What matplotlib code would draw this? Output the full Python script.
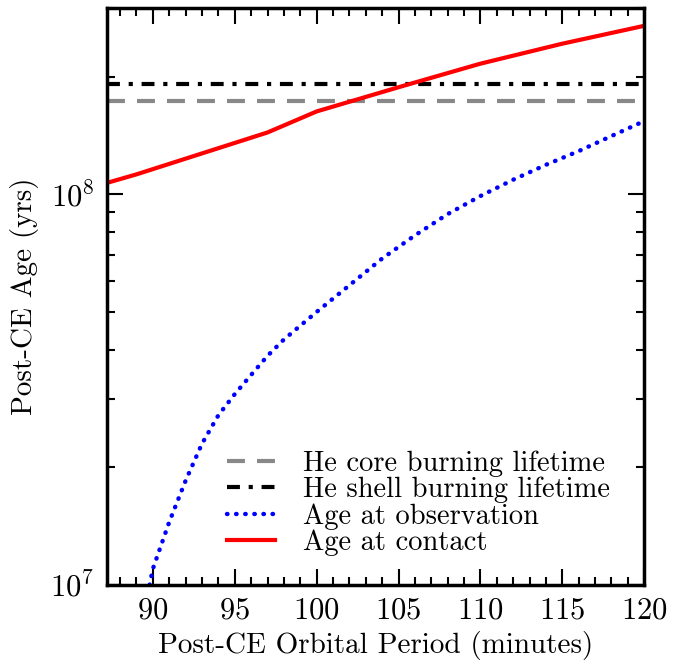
import matplotlib
matplotlib.use('Agg')
import matplotlib.pyplot as plt
from matplotlib.ticker import MultipleLocator, LogLocator, NullFormatter

plt.rcParams['font.family'] = 'serif'
plt.rcParams['font.serif'] = ['cmr10']
plt.rcParams['mathtext.fontset'] = 'cm'
plt.rcParams['axes.formatter.use_mathtext'] = True

# lifetimes (yrs)
he_core_life = 1.73e8
he_shell_life = 1.92e8

# age at observation
obs_period = [89.8, 90, 91, 92, 93, 94, 95, 96, 97, 98, 100, 102, 104, 106,
              108, 110, 112, 114, 116, 118, 120]
obs_age = [1.0e7, 1.1e7, 1.45e7, 1.85e7, 2.3e7, 2.72e7, 3.08e7, 3.45e7, 3.86e7,
           4.25e7, 5.0e7, 5.85e7, 6.85e7, 7.85e7, 8.9e7, 9.9e7, 1.09e8, 1.19e8,
           1.29e8, 1.41e8, 1.54e8]

# age at contact
contact_period = [87.2, 89, 97, 100, 105, 110, 115, 120]
contact_age = [1.07e8, 1.125e8, 1.44e8, 1.63e8, 1.88e8, 2.16e8, 2.43e8, 2.70e8]

fig = plt.figure(figsize=(6.86, 6.62), dpi=100)
ax = fig.add_axes([0.156, 0.1163, 0.783, 0.8717])

ax.axhline(he_core_life, color='#888888', lw=3, dashes=(4.3, 2.9),
           label='He core burning lifetime')
ax.axhline(he_shell_life, color='black', lw=3, dashes=(3.1, 2.1, 1.0, 2.1),
           label='He shell burning lifetime')
ax.plot(obs_period, obs_age, color='blue', lw=3.2, dashes=(0.1, 1.95),
        dash_capstyle='round', label='Age at observation')
ax.plot(contact_period, contact_age, color='red', lw=3, label='Age at contact')

ax.set_yscale('log')
ax.set_xlim(87.2, 120)
ax.set_ylim(1e7, 3e8)

ax.xaxis.set_major_locator(MultipleLocator(5))
ax.xaxis.set_minor_locator(MultipleLocator(1))
ax.yaxis.set_major_locator(LogLocator(base=10))
ax.yaxis.set_minor_locator(LogLocator(base=10, subs=range(2, 10)))
ax.yaxis.set_minor_formatter(NullFormatter())

ax.tick_params(which='both', direction='in', top=True, right=True, labelsize=22)
ax.tick_params(which='major', length=11.5, width=1.5, pad=9)
ax.tick_params(which='minor', length=5.8, width=1.5)
for s in ax.spines.values():
    s.set_linewidth(2.5)

ax.set_xlabel('Post-CE Orbital Period (minutes)', fontsize=21, labelpad=4)
ax.set_ylabel('Post-CE Age (yrs)', fontsize=21, labelpad=8)

ax.legend(loc='lower left', bbox_to_anchor=(0.2235, 0.05), frameon=False,
          fontsize=20.5, labelspacing=0.0, handlelength=1.7, handletextpad=0.95,
          borderpad=0, borderaxespad=0)

fig.savefig('out.png', dpi=100)
